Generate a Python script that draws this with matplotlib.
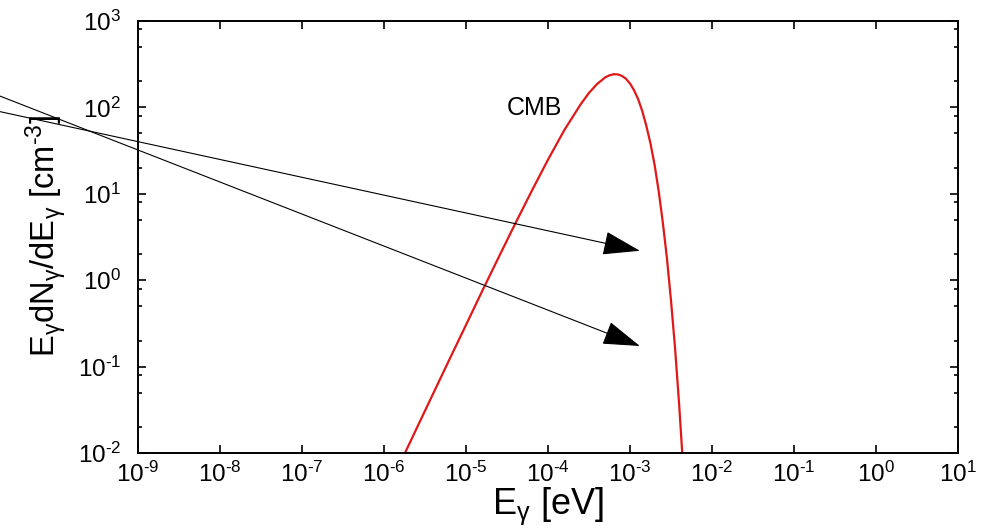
import matplotlib
matplotlib.use("Agg")
import matplotlib.pyplot as plt
from matplotlib.ticker import FixedLocator, FixedFormatter, NullLocator, NullFormatter

# CMB photon spectrum: energy [eV] and E dN/dE [cm^-3]
cmb_energy = [
    1.78e-6, 2.51e-6, 3.98e-6, 6.31e-6, 1.0e-5, 1.58e-5, 2.51e-5, 3.98e-5,
    6.31e-5, 1.0e-4, 1.58e-4, 2.51e-4, 3.16e-4, 3.98e-4, 5.01e-4, 5.62e-4,
    6.31e-4, 7.08e-4, 7.94e-4, 8.91e-4, 1.0e-3, 1.12e-3, 1.26e-3, 1.41e-3,
    1.58e-3, 1.78e-3, 2.0e-3, 2.24e-3, 2.51e-3, 2.82e-3, 3.16e-3, 3.55e-3,
    3.98e-3, 4.47e-3,
]
cmb_density = [
    0.00975, 0.0194, 0.0487, 0.122, 0.303, 0.752, 1.85, 4.50,
    10.7, 24.8, 54.5, 109, 147, 187, 223, 235,
    242, 241, 232, 215, 189, 158, 124, 90.9,
    61.5, 38.1, 21.4, 10.7, 4.71, 1.81, 0.590, 0.161,
    0.0360, 0.0064,
]

# two arrows, starting left of the frame
arrow_x0 = [2e-11, 2e-11]
arrow_y0 = [90.0, 137.0]
arrow_x1 = [1.32e-3, 1.32e-3]
arrow_y1 = [2.19, 0.173]

HY = "\u2010"  # short hyphen as in the original exponents
x_ticks = [1e-9, 1e-8, 1e-7, 1e-6, 1e-5, 1e-4, 1e-3, 1e-2, 1e-1, 1e0, 1e1]
x_exps = [HY + "9", HY + "8", HY + "7", HY + "6", HY + "5", HY + "4",
          HY + "3", HY + "2", HY + "1", "0", "1"]
y_ticks = [1e-2, 1e-1, 1e0, 1e1, 1e2, 1e3]
y_exps = [HY + "2", HY + "1", "0", "1", "2", "3"]
y_minor = [m * 10.0 ** e for e in range(-2, 3) for m in (2, 5, 8)]

x_labels = ["10$^{\\mathrm{%s}}$" % e for e in x_exps]
y_labels = ["10$^{\\mathrm{%s}}$" % e for e in y_exps]

plt.rcParams["font.family"] = ["Liberation Sans", "DejaVu Sans"]
plt.rcParams["mathtext.fontset"] = "custom"
plt.rcParams["mathtext.rm"] = "Liberation Sans"
plt.rcParams["mathtext.it"] = "Liberation Sans:italic"
plt.rcParams["mathtext.bf"] = "Liberation Sans:bold"

fig = plt.figure(figsize=(9.87, 5.30), dpi=100)
ax = fig.add_axes([0.1398, 0.1453, 0.8308, 0.8151])

ax.plot(cmb_energy, cmb_density, color="#e01818", lw=1.6)

ax.set_xscale("log")
ax.set_yscale("log")
ax.set_xlim(1e-9, 1e1)
ax.set_ylim(1e-2, 1e3)

ax.xaxis.set_major_locator(FixedLocator(x_ticks))
ax.xaxis.set_major_formatter(FixedFormatter(x_labels))
ax.xaxis.set_minor_locator(NullLocator())
ax.xaxis.set_minor_formatter(NullFormatter())
ax.yaxis.set_major_locator(FixedLocator(y_ticks))
ax.yaxis.set_major_formatter(FixedFormatter(y_labels))
ax.yaxis.set_minor_locator(FixedLocator(y_minor))
ax.yaxis.set_minor_formatter(NullFormatter())

for s in ax.spines.values():
    s.set_linewidth(1.4)
ax.tick_params(which="both", direction="in", top=True, right=True, width=1.2)
ax.tick_params(which="major", length=6, labelsize=17.5)
ax.tick_params(axis="x", which="major", pad=6)
ax.tick_params(axis="y", which="major", pad=12)
ax.tick_params(which="minor", length=3.2)

ax.text(6.9e-5, 98, "CMB", fontsize=18, ha="center", va="center")

for xs, ys, xe, ye in zip(arrow_x0, arrow_y0, arrow_x1, arrow_y1):
    ax.annotate("", xy=(xe, ye), xytext=(xs, ys), xycoords="data",
                annotation_clip=False,
                arrowprops=dict(arrowstyle="-|>,head_length=23.8,head_width=7.6",
                                mutation_scale=1, color="black", lw=0.8,
                                shrinkA=0, shrinkB=0))

fig.text(0.5552, 0.030, r"E$_\mathrm{\gamma}$ [eV]", fontsize=26,
         ha="center", va="baseline")
ylab = (r"E$_\mathrm{\gamma}$dN$_\mathrm{\gamma}$/dE$_\mathrm{\gamma}$ [cm$^{\mathrm{"
        + HY + "3}}$]")
fig.text(0.047, 0.555, ylab, fontsize=23.5, rotation=90, ha="center", va="center")

fig.savefig("out.png", dpi=100)
